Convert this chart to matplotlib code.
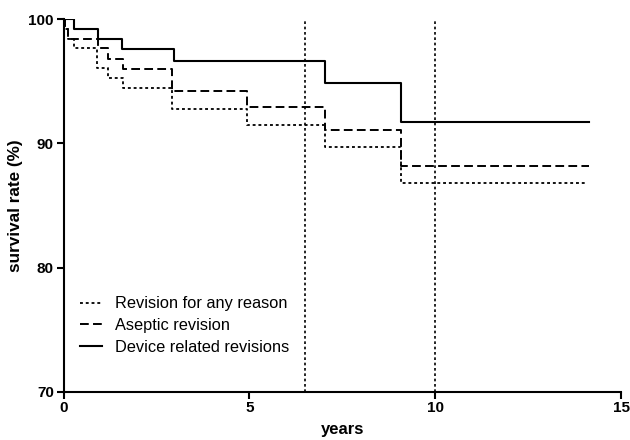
import matplotlib
matplotlib.use("Agg")
import matplotlib.pyplot as plt

plt.rcParams['font.family'] = ['Liberation Sans', 'DejaVu Sans']

# Kaplan-Meier step data (time in years, survival %)
any_t = [0.0, 0.05, 0.12, 0.29, 0.89, 1.2, 1.6, 2.92, 4.95, 7.04, 9.09, 14.06]
any_s = [100.0, 99.25, 98.4, 97.66, 96.1, 95.3, 94.5, 92.75, 91.46, 89.74, 86.84, 86.84]

asep_t = [0.0, 0.05, 0.12, 0.94, 1.2, 1.6, 2.92, 4.95, 7.04, 9.09, 14.13]
asep_s = [100.0, 99.25, 98.4, 97.66, 96.8, 96.0, 94.25, 92.96, 91.1, 88.2, 88.2]

dev_t = [0.0, 0.29, 0.94, 1.57, 2.97, 7.04, 9.09, 14.15]
dev_s = [100.0, 99.25, 98.4, 97.6, 96.66, 94.84, 91.75, 91.75]

ref_lines = [6.5, 10.0]
labels = ["Revision for any reason", "Aseptic revision", "Device related revisions"]

fig = plt.figure(figsize=(6.3, 4.4), dpi=100)
ax = fig.add_axes([0.1008, 0.1098, 0.885, 0.8462])

ax.plot(any_t, any_s, drawstyle='steps-post', color='black', lw=1.3,
        linestyle=(0, (1.6, 1.6)), label=labels[0])
ax.plot(asep_t, asep_s, drawstyle='steps-post', color='black', lw=1.4,
        linestyle=(0, (4.5, 2.2)), label=labels[1])
ax.plot(dev_t, dev_s, drawstyle='steps-post', color='black', lw=1.5,
        linestyle='-', label=labels[2])

for xv in ref_lines:
    ax.axvline(xv, color='black', lw=1.2, linestyle=(0, (1.6, 1.6)))

ax.set_xlim(0, 15)
ax.set_ylim(70, 100)
ax.set_xticks([0, 5, 10, 15])
ax.set_yticks([70, 80, 90, 100])
for s in ['top', 'right']:
    ax.spines[s].set_visible(False)
for s in ['left', 'bottom']:
    ax.spines[s].set_linewidth(1.5)
ax.tick_params(direction='out', length=5, width=1.5, labelsize=11, pad=2)
for lab in ax.get_xticklabels() + ax.get_yticklabels():
    lab.set_fontweight('bold')

ax.set_xlabel('years', fontsize=12, fontweight='bold', labelpad=5)
ax.set_ylabel('survival rate (%)', fontsize=12.3, fontweight='bold', labelpad=4)

leg = ax.legend(loc='lower left', bbox_to_anchor=(0.018, 0.082), frameon=False,
                fontsize=11.8, handlelength=1.32, handletextpad=0.8,
                labelspacing=0.4, borderpad=0.4, borderaxespad=0)

fig.savefig('out.png', dpi=100)
